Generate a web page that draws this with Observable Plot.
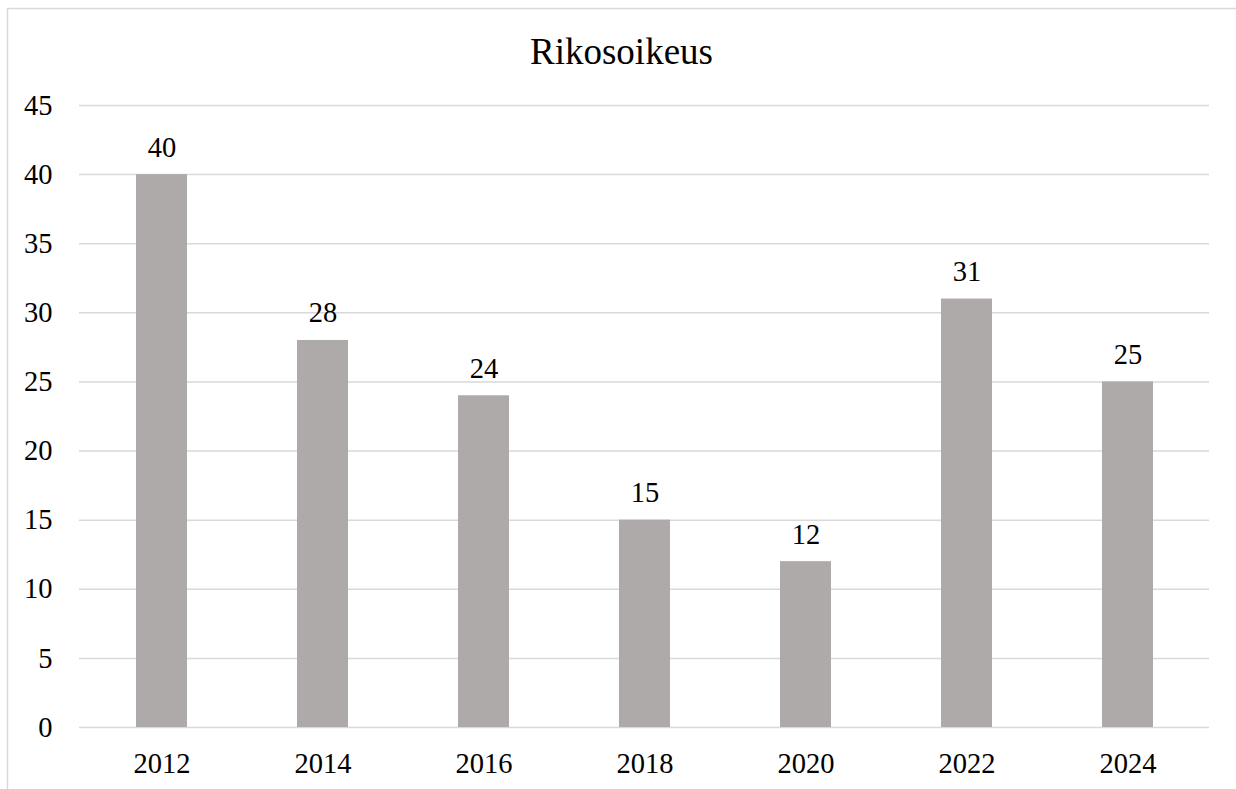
<!DOCTYPE html>
<html>
<head>
<meta charset="utf-8">
<script src="https://cdn.jsdelivr.net/npm/d3@7"></script>
<script src="https://cdn.jsdelivr.net/npm/@observablehq/plot@0.6"></script>
<style>
  html, body { margin: 0; padding: 0; background: #fff; }
  svg { display: block; }
  svg text { font-family: "Liberation Serif", "Times New Roman", serif !important; }
</style>
</head>
<body>
<div id="chart"></div>
<script>
const title = "Rikosoikeus";
const years = ["2012", "2014", "2016", "2018", "2020", "2022", "2024"];
const values = [40, 28, 24, 15, 12, 31, 25];
const yTicks = [0, 5, 10, 15, 20, 25, 30, 35, 40, 45];

const data = years.map((y, i) => ({year: y, value: values[i]}));
const font = "Liberation Serif";

const chart = Plot.plot({
  width: 1236,
  height: 789,
  marginLeft: 79,
  marginRight: 27,
  marginTop: 105,
  marginBottom: 62,
  style: {fontFamily: font, fontSize: "28.5px", color: "#000", background: "#fff"},
  x: {domain: years, paddingInner: 0.684, paddingOuter: 0.342, label: null},
  y: {domain: [0, 45], label: null},
  marks: [
    Plot.gridY(yTicks, {stroke: "#d9d9d9", strokeOpacity: 1, strokeWidth: 1.5}),
    Plot.axisY(yTicks, {tickSize: 0, tickPadding: 27, label: null, fontSize: 28.5}),
    Plot.axisX({tickSize: 0, tickPadding: 25, label: null, fontSize: 28.5}),
    Plot.barY(data, {x: "year", y: "value", fill: "#aeaaaa"}),
    Plot.text(data, {x: "year", y: "value", text: d => String(d.value), lineAnchor: "bottom", dy: -18, fontSize: 28.5, fill: "#000"}),
    Plot.text([title], {frameAnchor: "top", lineAnchor: "bottom", dy: -42, dx: -23, fontSize: 37, fill: "#000"})
  ]
});

d3.select(chart).selectAll("text").style("font-family", "'Liberation Serif', serif");

d3.select(chart).append("rect")
  .attr("x", 7.5).attr("y", 8.5)
  .attr("width", 1400).attr("height", 900)
  .attr("fill", "none").attr("stroke", "#d9d9d9").attr("stroke-width", 1.5);

document.getElementById("chart").appendChild(chart);
</script>
</body>
</html>
